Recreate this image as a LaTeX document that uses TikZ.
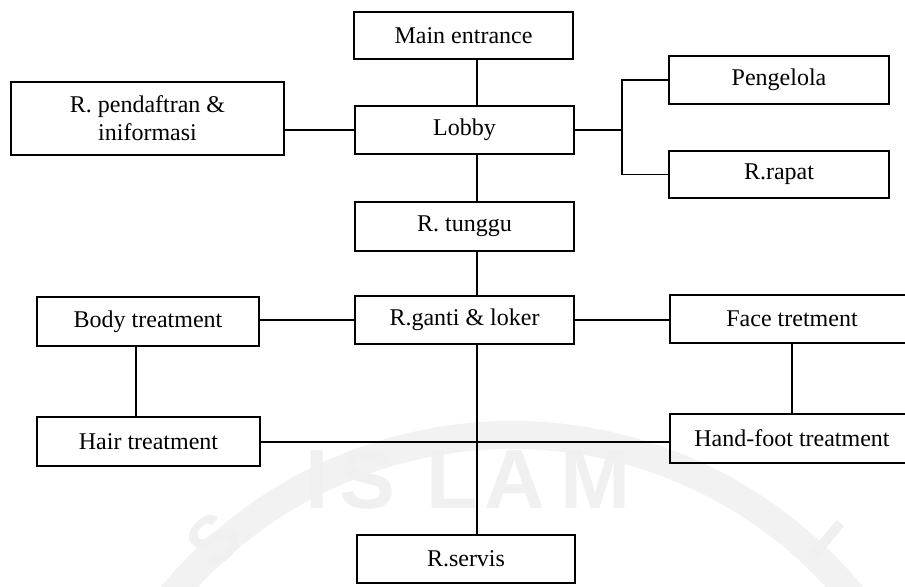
\documentclass[tikz,border=0pt]{standalone}
\usepackage{fontspec}
\setmainfont{Liberation Serif}
\newfontfamily\sealfont{Liberation Sans}
\begin{document}
\begin{tikzpicture}[x=0.5pt,y=-0.5pt,
  room/.style={draw=black, line width=0.9pt, inner sep=0pt, align=center,
    font=\fontsize{12}{14}\selectfont},
  link/.style={line width=0.9pt},
  seal/.style={text=black!6, inner sep=0pt,
    font=\sealfont\bfseries\fontsize{42}{42}\selectfont}]
\clip (0,0) rectangle (905,586);
\fill[white] (0,0) rectangle (905,586);

% faint seal in the background
\draw[black!5, line width=14pt] (512,875) ++(205:440) arc[start angle=205, end angle=335, radius=440];
\node[seal] (sI) at (317,480) {I};
\node[seal] (sS) at (368,480) {S};
\node[seal] (sL) at (452,480) {L};
\node[seal] (sA) at (515,480) {A};
\node[seal] (sM) at (595,480) {M};
\node[seal, rotate=45, font=\sealfont\bfseries\fontsize{34}{34}\selectfont] (rS) at (214,540) {S};
\node[seal, rotate=-40, font=\sealfont\bfseries\fontsize{34}{34}\selectfont] (rI) at (826,542) {I};

% rooms
\node[room, minimum width=109.5pt, minimum height=23.5pt] (main) at (463.5,35.5) {Main entrance};
\node[room, minimum width=109.5pt, minimum height=24pt] (lobby) at (464.5,130) {Lobby};
\node[room, minimum width=109.5pt, minimum height=24.5pt] (tunggu) at (464.5,226.5) {R. tunggu};
\node[room, minimum width=109.5pt, minimum height=24pt] (ganti) at (464.5,320) {R.ganti \& loker};
\node[room, minimum width=109pt, minimum height=24pt] (servis) at (466,559) {R.servis};
\node[room, minimum width=136.5pt, minimum height=36.5pt] (daftar) at (147.5,118.5) {R. pendaftran \&\\iniformasi};
\node[room, minimum width=110pt, minimum height=24pt] (pengelola) at (779,80) {Pengelola};
\node[room, minimum width=110pt, minimum height=23.5pt] (rapat) at (779,174.5) {R.rapat};
\node[room, minimum width=111pt, minimum height=24.5pt] (body) at (148,321.5) {Body treatment};
\node[room, minimum width=111.5pt, minimum height=24.5pt] (hair) at (148.5,441.5) {Hair treatment};
\node[room, minimum width=122pt, minimum height=24pt] (face) at (792,319) {Face tretment};
\node[room, minimum width=122pt, minimum height=24.5pt] (hand) at (792,438.5) {Hand-foot treatment};

% routing points
\coordinate (spine) at (477,0);
\coordinate (lcol) at (136,0);
\coordinate (fork) at (622,130);
\coordinate (hline) at (0,442);

% connections
\draw[link] (main.south -| spine) -- (lobby.north -| spine);
\draw[link] (lobby.south -| spine) -- (tunggu.north -| spine);
\draw[link] (tunggu.south -| spine) -- (ganti.north -| spine);
\draw[link] (ganti.south -| spine) -- (servis.north -| spine);
\draw[link] (lobby.west) -- (lobby.west -| daftar.east);
\draw[link] (lobby.east) -- (fork);
\draw[link] (pengelola.west) -| (fork) |- (rapat.west);
\draw[link] (ganti.west) -- (ganti.west -| body.east);
\draw[link] (ganti.east) -- (ganti.east -| face.west);
\draw[link] (body.south -| lcol) -- (hair.north -| lcol);
\draw[link] (face.south) -- (hand.north);
\draw[link] (hair.east |- hline) -- (hand.west |- hline);
\end{tikzpicture}
\end{document}
